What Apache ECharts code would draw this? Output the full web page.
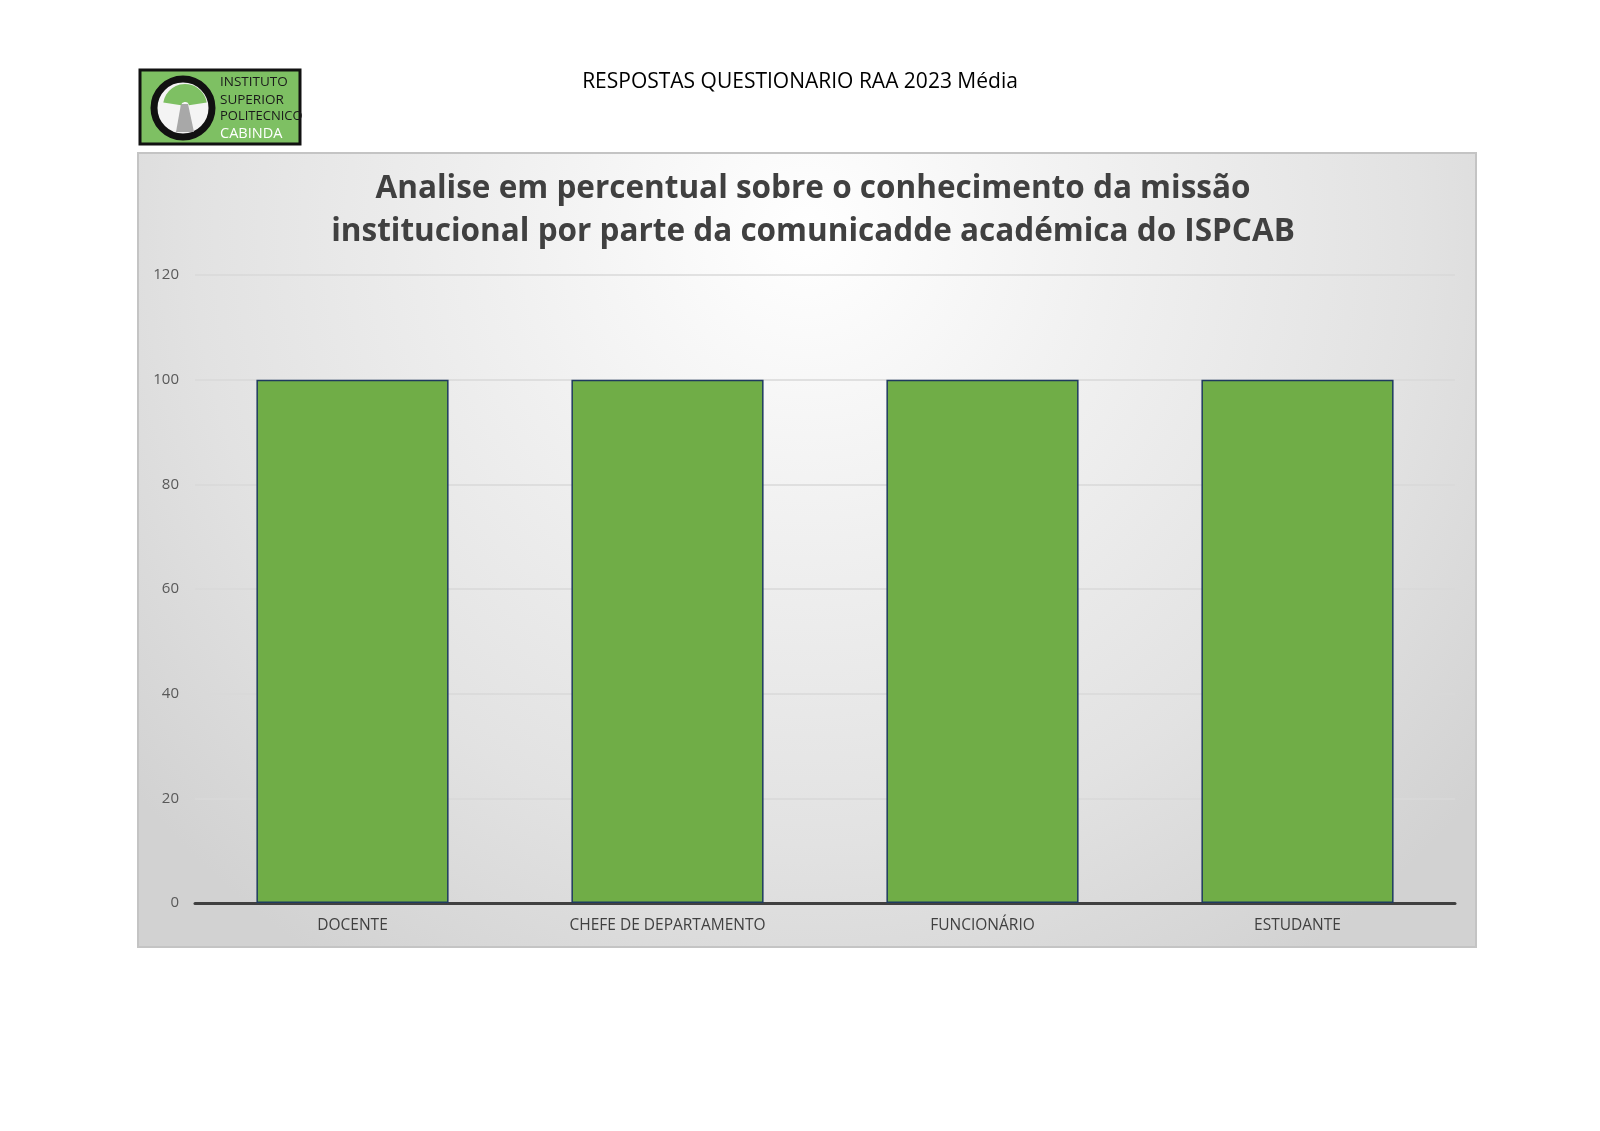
<!DOCTYPE html>
<html><head><meta charset="utf-8">
<script src="https://cdn.jsdelivr.net/npm/echarts@6/dist/echarts.min.js"></script>
<style>html,body{margin:0;padding:0;background:#fff}#c{width:1600px;height:1131px}</style>
</head><body><div id="c"></div>
<script>
const categories = ['DOCENTE', 'CHEFE DE DEPARTAMENTO', 'FUNCIONÁRIO', 'ESTUDANTE'];
const values = [100, 100, 100, 100];
const yTicks = {min: 0, max: 120, interval: 20};
const headerText = 'RESPOSTAS QUESTIONARIO RAA 2023 Média';
const chartTitle = 'Analise em percentual sobre o conhecimento da missão\ninstitucional por parte da comunicadde académica do ISPCAB';

const chart = echarts.init(document.getElementById('c'), null, {renderer: 'canvas'});
const font = '"Open Sans", "Noto Sans", sans-serif';
chart.setOption({
  backgroundColor: '#ffffff',
  animation: false,
  graphic: [
    {type: 'rect', z: -10, silent: true,
     shape: {x: 138, y: 153, width: 1338, height: 794},
     style: {
       fill: new echarts.graphic.RadialGradient(0.5, 0.1, 1.1, [
         {offset: 0, color: '#ffffff'}, {offset: 0.35, color: '#f0f0f0'}, {offset: 0.7, color: '#e2e2e2'}, {offset: 1, color: '#d2d2d2'}]),
       stroke: '#c4c4c4', lineWidth: 2}},
    {type: 'text', left: 'center', top: 72,
     style: {text: headerText, font: '21px ' + font, fill: '#000000'}},
    // logo
    {type: 'rect', shape: {x: 140, y: 70, width: 160, height: 74},
     style: {fill: '#7ec063', stroke: '#111111', lineWidth: 3}},
    {type: 'circle', shape: {cx: 183, cy: 108, r: 29},
     style: {fill: '#f4f4f4', stroke: '#111111', lineWidth: 7}},
    {type: 'polygon', shape: {points: [[176, 132], [181, 104], [188, 104], [194, 132]]},
     style: {fill: '#a8a8a8'}},
    {type: 'sector', shape: {cx: 185, cy: 106, r0: 4, r: 22, startAngle: Math.PI * 1.05, endAngle: Math.PI * 1.95},
     style: {fill: '#7ec063'}},
    {type: 'text', x: 220, y: 75, style: {text: 'INSTITUTO', font: '13.5px ' + font, fill: '#1a1a1a'}},
    {type: 'text', x: 220, y: 93, style: {text: 'SUPERIOR', font: '13.5px ' + font, fill: '#1a1a1a'}},
    {type: 'text', x: 220, y: 110, style: {text: 'POLITECNICO', font: '13px ' + font, fill: '#1a1a1a'}},
    {type: 'text', x: 220, y: 126, style: {text: 'CABINDA', font: '14.5px ' + font, fill: '#ffffff'}}
  ],
  title: {
    text: chartTitle, left: 808, top: 163, textAlign: 'center',
    textStyle: {fontFamily: font, fontSize: 31.5, fontWeight: 'bold', color: '#404040', lineHeight: 43}
  },
  grid: {left: 195, right: 145, top: 275, bottom: 228},
  xAxis: {
    type: 'category', data: categories,
    axisLine: {lineStyle: {color: '#404040', width: 3}},
    axisTick: {show: false},
    axisLabel: {color: '#404040', fontSize: 15.5, fontFamily: font, margin: 15}
  },
  yAxis: {
    type: 'value', min: yTicks.min, max: yTicks.max, interval: yTicks.interval,
    axisLine: {show: false}, axisTick: {show: false},
    axisLabel: {color: '#595959', fontSize: 15, fontFamily: font, margin: 16},
    splitLine: {lineStyle: {color: '#d9d9d9', width: 1.5}}
  },
  series: [{
    type: 'bar', data: values, barCategoryGap: '39%',
    itemStyle: {color: '#70ad47', borderColor: '#1f3a5f', borderWidth: 1.5}
  }]
});
</script></body></html>
